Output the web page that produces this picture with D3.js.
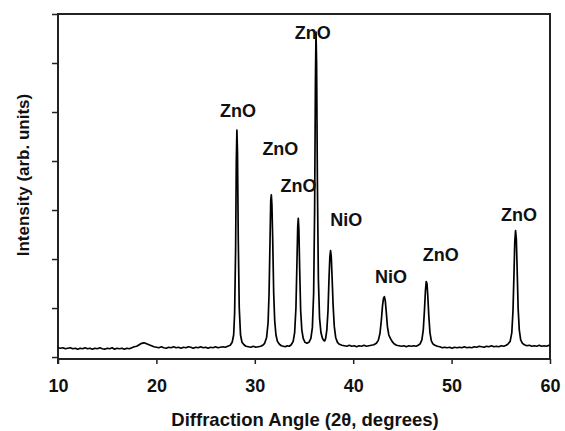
<!DOCTYPE html>
<html>
<head>
<meta charset="utf-8">
<script src="https://cdn.jsdelivr.net/npm/d3@7"></script>
<style>
  body { margin: 0; background: #fff; }
  svg { font-family: "Liberation Sans", Arial, sans-serif; }
</style>
</head>
<body>
<div id="chart-area"></div>
<script>

// x tick labels (2theta) and y ticks (unlabelled)
var xTicks = [10, 20, 30, 40, 50, 60];
var yTicks = [0, 1, 2, 3, 4, 5, 6, 7];

// pattern: [2theta, intensity]
var pattern = [
  [10.0,0.19],[10.25,0.18],[10.5,0.19],[10.75,0.17],[11.0,0.18],[11.25,0.19],[11.5,0.17],[11.75,0.18],
  [12.0,0.16],[12.25,0.18],[12.5,0.17],[12.75,0.19],[13.0,0.17],[13.25,0.18],[13.5,0.16],[13.75,0.18],
  [14.0,0.17],[14.25,0.19],[14.5,0.17],[14.75,0.16],[15.0,0.18],[15.25,0.17],[15.5,0.19],[15.75,0.16],
  [16.0,0.18],[16.25,0.17],[16.5,0.18],[16.75,0.16],[17.0,0.18],[17.25,0.17],[17.5,0.19],[17.75,0.21],
  [18.0,0.22],[18.25,0.25],[18.5,0.28],[18.75,0.29],[19.0,0.27],[19.25,0.25],[19.5,0.23],[19.75,0.21],
  [20.0,0.20],[20.25,0.19],[20.5,0.21],[20.75,0.19],[21.0,0.18],[21.25,0.20],[21.5,0.19],[21.75,0.21],
  [22.0,0.19],[22.25,0.20],[22.5,0.18],[22.75,0.20],[23.0,0.19],[23.25,0.21],[23.5,0.20],[23.75,0.18],
  [24.0,0.20],[24.25,0.19],[24.5,0.21],[24.75,0.19],[25.0,0.20],[25.25,0.18],[25.5,0.20],[25.75,0.19],
  [26.0,0.21],[26.25,0.19],[26.5,0.20],[26.75,0.21],[27.0,0.20],[27.25,0.22],[27.5,0.24],[27.7,0.30],
  [27.85,0.45],[27.95,0.90],[28.05,2.2],[28.12,4.0],[28.18,4.63],[28.24,4.2],[28.32,2.4],[28.42,1.0],
  [28.55,0.45],[28.7,0.30],[28.9,0.25],[29.1,0.22],[29.35,0.21],[29.6,0.20],[29.85,0.22],[30.1,0.20],
  [30.35,0.21],[30.6,0.22],[30.8,0.24],[31.0,0.28],[31.2,0.40],[31.35,0.70],[31.45,1.3],[31.55,2.4],
  [31.62,3.2],[31.68,3.31],[31.74,3.1],[31.82,2.4],[31.92,1.3],[32.02,0.75],[32.15,0.45],[32.3,0.32],
  [32.5,0.26],[32.7,0.23],[32.9,0.22],[33.1,0.21],[33.3,0.23],[33.5,0.22],[33.7,0.25],[33.9,0.32],
  [34.05,0.50],[34.18,1.0],[34.28,1.9],[34.36,2.65],[34.42,2.83],[34.48,2.6],[34.56,1.8],[34.66,0.95],
  [34.78,0.55],[34.92,0.38],[35.1,0.30],[35.3,0.28],[35.5,0.30],[35.7,0.38],[35.85,0.60],[35.98,1.3],
  [36.08,3.0],[36.16,5.6],[36.22,6.63],[36.28,6.0],[36.36,3.6],[36.46,1.6],[36.58,0.80],[36.72,0.50],
  [36.88,0.38],[37.0,0.34],[37.1,0.33],[37.2,0.38],[37.32,0.55],[37.44,0.95],[37.54,1.6],[37.63,2.05],
  [37.7,2.17],[37.77,2.05],[37.86,1.6],[37.96,1.05],[38.08,0.62],[38.22,0.40],[38.4,0.30],[38.6,0.26],
  [38.85,0.24],[39.1,0.23],[39.35,0.22],[39.6,0.24],[39.85,0.22],[40.1,0.23],[40.35,0.21],[40.6,0.23],
  [40.85,0.22],[41.1,0.24],[41.35,0.22],[41.6,0.23],[41.85,0.24],[42.1,0.25],[42.35,0.28],[42.55,0.34],
  [42.72,0.48],[42.86,0.75],[42.98,1.05],[43.08,1.20],[43.17,1.23],[43.26,1.15],[43.36,0.92],[43.48,0.62],
  [43.62,0.45],[43.78,0.38],[43.95,0.32],[44.15,0.27],[44.4,0.24],[44.65,0.23],[44.9,0.22],[45.15,0.23],
  [45.4,0.21],[45.65,0.23],[45.9,0.22],[46.15,0.23],[46.4,0.22],[46.6,0.24],[46.8,0.27],[46.98,0.35],
  [47.12,0.55],[47.24,0.95],[47.34,1.35],[47.42,1.54],[47.5,1.50],[47.58,1.25],[47.68,0.85],[47.8,0.50],
  [47.94,0.33],[48.1,0.27],[48.3,0.24],[48.55,0.22],[48.8,0.21],[49.05,0.19],[49.3,0.20],[49.55,0.19],
  [49.8,0.20],[50.05,0.18],[50.3,0.20],[50.55,0.19],[50.8,0.20],[51.05,0.19],[51.3,0.21],[51.55,0.19],
  [51.8,0.20],[52.05,0.19],[52.3,0.21],[52.55,0.20],[52.8,0.22],[53.05,0.21],[53.3,0.20],[53.55,0.22],
  [53.8,0.21],[54.05,0.23],[54.3,0.21],[54.55,0.22],[54.8,0.21],[55.05,0.23],[55.3,0.22],[55.55,0.24],
  [55.75,0.27],[55.95,0.32],[56.12,0.50],[56.24,0.95],[56.34,1.70],[56.42,2.35],[56.5,2.58],[56.58,2.40],
  [56.66,1.80],[56.76,1.00],[56.88,0.55],[57.02,0.35],[57.2,0.28],[57.4,0.25],[57.65,0.23],[57.9,0.24],
  [58.15,0.22],[58.4,0.23],[58.65,0.22],[58.9,0.24],[59.15,0.22],[59.4,0.23],[59.65,0.22],[59.9,0.24],
  [60.0,0.23]
];

// peak labels: text, 2theta of label centre, intensity at label baseline
var peakNames = ["ZnO", "ZnO", "ZnO", "ZnO", "NiO", "NiO", "ZnO", "ZnO"];
var peakAngle = [28.3, 32.6, 34.45, 35.9, 39.3, 43.85, 48.9, 56.85];
var peakLabelY = [4.9, 4.12, 3.37, 6.49, 2.67, 1.51, 1.96, 2.78];

var total_width = 565;
var total_height = 431;

var svg = d3.select('#chart-area').append('svg')
            .attr("width", total_width)
            .attr("height", total_height);

var margin = {top:14, right:15, bottom:72, left:58};
var width = total_width - margin.left - margin.right;
var height = total_height - margin.top - margin.bottom;

var chart = svg.append('g')
               .attr("transform", "translate(" + margin.left + "," + margin.top + ")");

var x = d3.scaleLinear().domain([10, 60]).range([0, width]);
var y = d3.scaleLinear().domain([-0.04, 7]).range([height, 0]);

var axisColor = "#222";

// x axis
var xAxis = d3.axisBottom(x).tickValues(xTicks).tickSize(5).tickSizeOuter(0);
var gx = chart.append('g')
              .attr("transform", "translate(0," + height + ")")
              .call(xAxis);
gx.select(".domain").remove();
gx.selectAll(".tick line").attr("stroke", axisColor).attr("stroke-width", 1.5);
gx.selectAll(".tick text")
  .attr("y", 33).attr("dy", 0)
  .attr("fill", "#111")
  .attr("font-size", "18px")
  .attr("font-weight", "bold")
  .attr("font-family", "Liberation Sans, Arial, sans-serif");

// y axis, ticks only
var yAxis = d3.axisLeft(y).tickValues(yTicks).tickSize(6).tickFormat("").tickSizeOuter(0);
var gy = chart.append('g').call(yAxis);
gy.select(".domain").remove();
gy.selectAll(".tick line").attr("stroke", axisColor).attr("stroke-width", 1.5);

// frame
chart.append('rect')
     .attr("x", 0).attr("y", 0)
     .attr("width", width).attr("height", height)
     .attr("fill", "none")
     .attr("stroke", axisColor)
     .attr("stroke-width", 2);
// left axis runs a little below the frame
chart.append('line')
     .attr("x1", 0).attr("x2", 0)
     .attr("y1", height).attr("y2", height + 5)
     .attr("stroke", axisColor).attr("stroke-width", 2);

var lineFunction = d3.line()
               .x(function(d) { return x(d[0]); })
               .y(function(d) { return y(d[1]); });

chart.append('path')
     .datum(pattern)
     .attr("d", lineFunction)
     .attr("fill", "none")
     .attr("stroke", "#000")
     .attr("stroke-width", 1.7)
     .attr("stroke-linejoin", "round");

chart.selectAll('.peak')
     .data(peakNames)
     .enter().append('text')
     .attr("class", "peak")
     .attr("x", function(d, i) { return x(peakAngle[i]); })
     .attr("y", function(d, i) { return y(peakLabelY[i]); })
     .attr("text-anchor", "middle")
     .attr("font-size", "18px")
     .attr("font-weight", "bold")
     .attr("fill", "#111")
     .text(function(d) { return d; });

// axis titles
svg.append('text')
   .attr("x", 305)
   .attr("y", 426)
   .attr("text-anchor", "middle")
   .attr("font-size", "18.5px")
   .attr("font-weight", "bold")
   .attr("fill", "#111")
   .text("Diffraction Angle (2\u03b8, degrees)");

svg.append('text')
   .attr("transform", "translate(29,175) rotate(-90)")
   .attr("text-anchor", "middle")
   .attr("font-size", "17px")
   .attr("font-weight", "bold")
   .attr("fill", "#111")
   .text("Intensity (arb. units)");

</script>
</body>
</html>
